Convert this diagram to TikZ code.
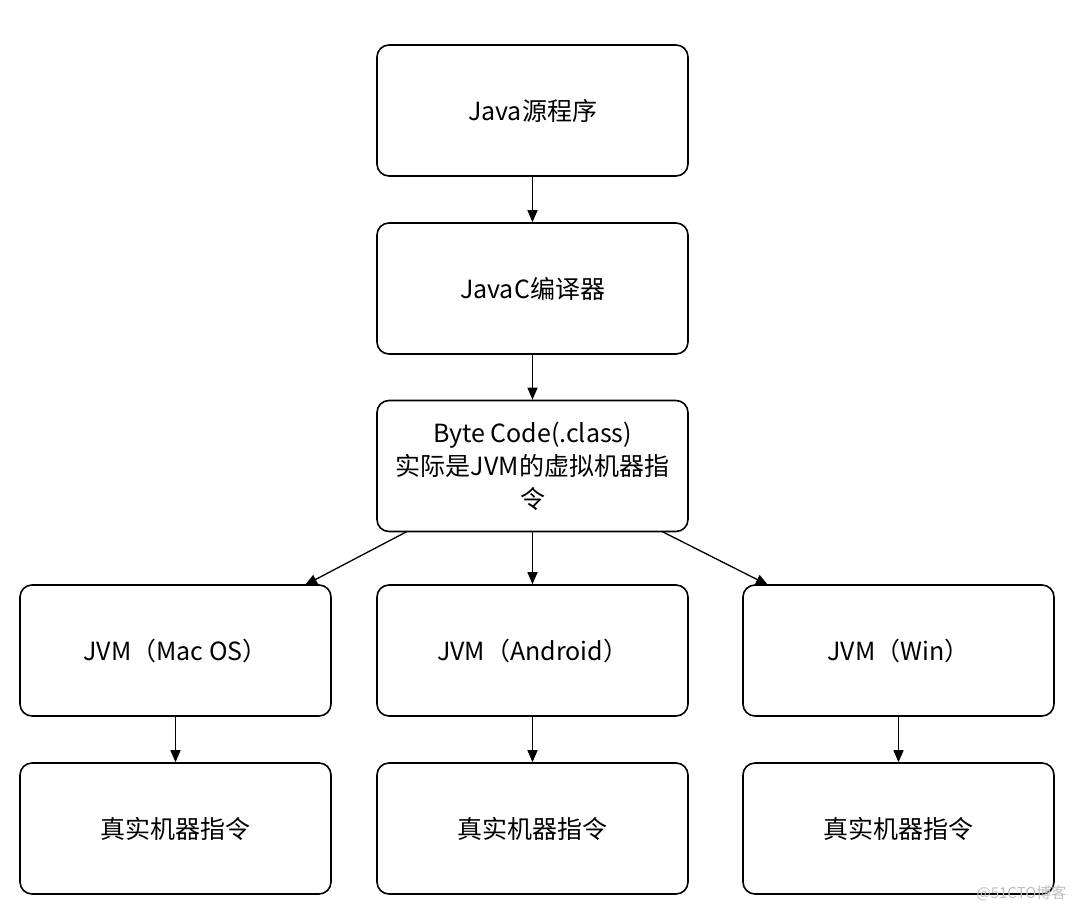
\documentclass[tikz,border=0pt]{standalone}
\usepackage{fontspec}
\setmainfont{Noto Sans CJK SC}
\usetikzlibrary{arrows.meta}
\begin{document}
\begin{tikzpicture}[x=1pt,y=-1pt,
  box/.style={draw=black, line width=1.6pt, rounded corners=12pt, minimum width=311pt, minimum height=131pt, align=center, font=\fontsize{25}{33}\selectfont, inner sep=0pt},
  arr/.style={-{Triangle[length=12pt,width=10pt]}, line width=1.3pt}]
\useasboundingbox (0,0) rectangle (1080,914);
\fill[white] (0,0) rectangle (1080,914);
\node[box] (src) at (532.5,110.5) {Java源程序};
\node[box] (javac) at (532.5,288.5) {JavaC编译器};
\node[box] (bc) at (532.5,466) {Byte Code(.class)\\实际是JVM的虚拟机器指\\令};
\node[box] (mac) at (175.5,650.5) {JVM（Mac OS）};
\node[box] (and) at (532.5,650.5) {JVM（Android）};
\node[box] (win) at (898.5,650.5) {JVM（Win）};
\node[box] (r1) at (175.5,828.5) {真实机器指令};
\node[box] (r2) at (532.5,828.5) {真实机器指令};
\node[box] (r3) at (898.5,828.5) {真实机器指令};
\coordinate (bcl) at (407,531.5);
\coordinate (bcr) at (662,531.5);
\coordinate (macin) at (305,585);
\coordinate (winin) at (768,585);
\draw[arr] (src) -- (javac);
\draw[arr] (javac) -- (bc);
\draw[arr] (bc) -- (and);
\draw[arr] (bcl) -- (macin);
\draw[arr] (bcr) -- (winin);
\draw[arr] (mac) -- (r1);
\draw[arr] (and) -- (r2);
\draw[arr] (win) -- (r3);
\node[text=black!25, font=\fontsize{15}{17}\selectfont, anchor=east] (wm) at (1070,893) {@51CTO博客};
\end{tikzpicture}
\end{document}
